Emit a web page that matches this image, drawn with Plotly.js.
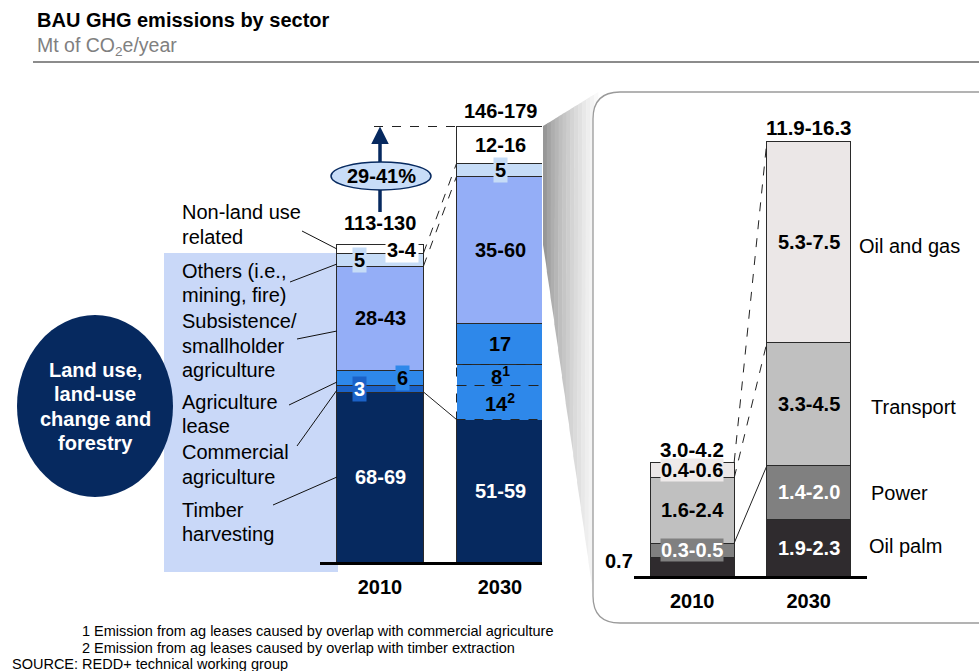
<!DOCTYPE html>
<html><head><meta charset="utf-8">
<script src="https://cdn.plot.ly/plotly-3.0.1.min.js"></script>
<style>html,body{margin:0;padding:0;background:#fff}#chart{width:979px;height:671px}</style>
</head><body><div id="chart"></div>
<script>
// ---------------- DATA ----------------
const years = ['2010', '2030'];

// Land use, land-use change and forestry (left chart), Mt CO2e / year
const timberHarvesting         = [68, 57];
const agLeaseTimberOverlap     = [null, 13.6];
const agLeaseCommercialOverlap = [null, 8.4];
const commercialAgriculture    = [2.8, null];
const agricultureLease         = [6, 16.4];
const subsistenceAgriculture   = [41.6, 58.8];
const othersMiningFire         = [5.2, 5.2];
const nonLandUseRelated        = [3.6, 14.8];

const timberLabels            = ['68-69', '51-59'];
const agLeaseTimberLabels     = ['', '14<sup>2</sup>'];
const agLeaseCommercialLabels = ['', '8<sup>1</sup>'];
const commercialLabels        = ['3', ''];
const leaseLabels             = ['6', '17'];
const subsistenceLabels       = ['28-43', '35-60'];
const othersLabels            = ['5', '5'];
const nonLandLabels           = ['3-4', '12-16'];
const landTotals              = ['113-130', '146-179'];
const growthLabel             = '29-41%';

// Non-land use (right panel), Mt CO2e / year
const oilPalm   = [0.63, 1.9];
const power     = [0.47, 1.77];
const transport = [2.17, 4.1];
const oilAndGas = [0.53, 6.7];
const oilPalmLabels   = ['0.7', '1.9-2.3'];
const powerLabels     = ['0.3-0.5', '1.4-2.0'];
const transportLabels = ['1.6-2.4', '3.3-4.5'];
const oilAndGasLabels = ['0.4-0.6', '5.3-7.5'];
const nonLandTotals   = ['3.0-4.2', '11.9-16.3'];

const footnotes = [
  '1 Emission from ag leases caused by overlap with commercial agriculture',
  '2 Emission from ag leases caused by overlap with timber extraction'
];
const sourceNote = 'SOURCE: REDD+ technical working group';

// ---------------- STYLE / LAYOUT ----------------
const W = 979, H = 671;
const px = v => v / W;
const py = v => 1 - v / H;
const P = (x, y) => px(x) + ',' + py(y);
const FONT = 'Liberation Sans, Arial, Helvetica, sans-serif';
const NAVY = '#06295f';
const LW = 0.725;   // left bar width (category units)
const RW = 0.72;    // right bar width

const leftSeries = [
  {values: timberHarvesting, labels: timberLabels, color: NAVY, text: '#fff'},
  {values: agLeaseTimberOverlap, labels: agLeaseTimberLabels, color: '#2e88ea', text: '#000', dashed: true},
  {values: agLeaseCommercialOverlap, labels: agLeaseCommercialLabels, color: '#2e88ea', text: '#000', dashed: true},
  {values: commercialAgriculture, labels: commercialLabels, color: '#1b62c8', text: '#fff', boxes: [{xshift: -21}, null]},
  {values: agricultureLease, labels: leaseLabels, color: '#2e88ea', text: '#000', boxes: [{xshift: 22}, null]},
  {values: subsistenceAgriculture, labels: subsistenceLabels, color: '#94aef7', text: '#000'},
  {values: othersMiningFire, labels: othersLabels, color: '#c6dcf7', text: '#000', boxes: [{xshift: -21}, {xshift: 0}]},
  {values: nonLandUseRelated, labels: nonLandLabels, color: '#ffffff', text: '#000', boxes: [{xshift: 22, yshift: -1}, null]}
];
const rightSeries = [
  {values: oilPalm, labels: oilPalmLabels, color: '#2f2b2e', text: '#fff', boxes: [{xshift: -73, yshift: 6, bg: 'rgba(0,0,0,0)', text: '#000'}, null]},
  {values: power, labels: powerLabels, color: '#808080', text: '#fff', boxes: [{xshift: 0, pad: 0}, null]},
  {values: transport, labels: transportLabels, color: '#c0c0c0', text: '#000'},
  {values: oilAndGas, labels: oilAndGasLabels, color: '#ebe7e7', text: '#000', boxes: [{xshift: 0, bg: '#eeeaea', pad: 0}, null]}
];

function cum(series, i, k) { // sum of series[0..k] at index i
  let s = 0;
  for (let j = 0; j <= k; j++) s += (series[j].values[i] || 0);
  return s;
}

const traces = [];
const annotations = [];
const shapes = [];

function addStack(series, xa, ya, width) {
  series.forEach((s, k) => {
    traces.push({
      type: 'bar', x: [0, 1], y: s.values, width: width,
      xaxis: xa, yaxis: ya, hoverinfo: 'skip', showlegend: false,
      marker: {color: s.color, line: {color: s.dashed ? s.color : '#2a2a2a', width: s.dashed ? 0 : 1}}
    });
    s.values.forEach((v, i) => {
      if (v == null) return;
      const base = cum(series, i, k - 1);
      if (s.dashed) {
        shapes.push({type: 'rect', xref: xa, yref: ya, layer: 'above',
          x0: i - width / 2, x1: i + width / 2, y0: base, y1: base + v,
          line: {color: '#222', width: 1, dash: 'dash'}});
      }
      const lab = s.labels[i];
      if (!lab) return;
      const b = s.boxes ? s.boxes[i] : null;
      annotations.push({
        xref: xa, yref: ya, x: i, y: base + v / 2, text: '<b>' + lab + '</b>',
        showarrow: false, xanchor: 'center', yanchor: 'middle',
        xshift: b ? (b.xshift || 0) : 0, yshift: b ? (b.yshift || 0) : 0,
        bgcolor: b ? (b.bg || s.color) : 'rgba(0,0,0,0)', borderpad: b && b.pad !== undefined ? b.pad : 1,
        font: {family: FONT, size: 20, color: b && b.text ? b.text : s.text}
      });
    });
  });
}
addStack(leftSeries, 'x', 'y', LW);
addStack(rightSeries, 'x2', 'y2', RW);

// totals
const lTot = [0, 1].map(i => cum(leftSeries, i, leftSeries.length - 1));
const rTot = [0, 1].map(i => cum(rightSeries, i, rightSeries.length - 1));
const totShiftL = [21, 16], totShiftR = [13, 14];
landTotals.forEach((t, i) => annotations.push({xref: 'x', yref: 'y', x: i, y: lTot[i], yshift: totShiftL[i],
  xanchor: 'center', yanchor: 'middle',
  text: '<b>' + t + '</b>', showarrow: false, font: {family: FONT, size: 20, color: '#000'}}));
nonLandTotals.forEach((t, i) => annotations.push({xref: 'x2', yref: 'y2', x: i, y: rTot[i], yshift: totShiftR[i],
  xanchor: 'center', yanchor: 'middle',
  text: '<b>' + t + '</b>', showarrow: false, font: {family: FONT, size: 20.5, color: '#000'}}));

// connectors (computed from stacked data)
function connector(xa, ya, w, y0, y1, dash) {
  shapes.push({type: 'line', xref: xa, yref: ya, layer: 'above', x0: w / 2, x1: 1 - w / 2, y0: y0, y1: y1,
    line: {color: '#222', width: 1, dash: dash}});
}
connector('x', 'y', LW, cum(leftSeries, 0, 6), cum(leftSeries, 1, 6), 'dash');
connector('x', 'y', LW, cum(leftSeries, 0, 5), cum(leftSeries, 1, 5), 'dash');
connector('x', 'y', LW, cum(leftSeries, 0, 0), cum(leftSeries, 1, 0), 'solid');
connector('x2', 'y2', RW, rTot[0], rTot[1], 'dash');
connector('x2', 'y2', RW, cum(rightSeries, 0, 2), cum(rightSeries, 1, 2), 'dash');
connector('x2', 'y2', RW, cum(rightSeries, 0, 1), cum(rightSeries, 1, 1), 'solid');
// dashed horizontal from arrow to 2030 top
shapes.push({type: 'line', xref: 'x', yref: 'y', layer: 'above', x0: -0.05, x1: 1 - LW / 2, y0: lTot[1], y1: lTot[1],
  line: {color: '#222', width: 1, dash: 'dash'}});

// growth arrow
annotations.push({xref: 'x', yref: 'y', x: 0, y: lTot[1], ax: 0, ay: 37, text: '', showarrow: true,
  arrowhead: 2, arrowsize: 1, arrowwidth: 3.5, arrowcolor: NAVY});
shapes.push({type: 'line', xref: 'x', yref: 'paper', layer: 'above', x0: 0, x1: 0, y0: py(189), y1: py(212),
  line: {color: NAVY, width: 3.5}});
shapes.push({type: 'circle', xref: 'paper', yref: 'paper', layer: 'above', x0: px(331), x1: px(431), y0: py(190), y1: py(162),
  fillcolor: '#c8ddf8', line: {color: NAVY, width: 1.5}});
annotations.push({xref: 'paper', yref: 'paper', x: px(381), y: py(176), xanchor: 'center', yanchor: 'middle',
  text: '<b>' + growthLabel + '</b>', showarrow: false,
  font: {family: FONT, size: 20, color: '#000'}});

// background decorations (below)
const below = [];
// gray wedge (gradient approximated by strips)
const A = [543, 126], B = [598, 92], C = [543, 245], D = [596, 615];
const N = 14;
for (let j = 0; j < N; j++) {
  const t0 = j / N, t1 = (j + 1) / N;
  const xa0 = A[0] + (B[0] - A[0]) * t0, xa1 = A[0] + (B[0] - A[0]) * t1;
  const ya0 = A[1] + (B[1] - A[1]) * t0, ya1 = A[1] + (B[1] - A[1]) * t1;
  const yb0 = C[1] + (D[1] - C[1]) * t0, yb1 = C[1] + (D[1] - C[1]) * t1;
  const xb0 = C[0] + (D[0] - C[0]) * t0, xb1 = C[0] + (D[0] - C[0]) * t1;
  const g = Math.round(140 + 112 * Math.pow((j + 0.5) / N, 0.7));
  below.push({type: 'path', xref: 'paper', yref: 'paper', layer: 'below',
    path: 'M' + P(xa0, ya0) + 'L' + P(xa1 + 0.4, ya1) + 'L' + P(xb1 + 0.4, yb1) + 'L' + P(xb0, yb0) + 'Z',
    fillcolor: 'rgb(' + g + ',' + g + ',' + g + ')', line: {width: 0}});
}
// right panel (rounded)
below.push({type: 'path', xref: 'paper', yref: 'paper', layer: 'below',
  path: 'M' + P(1010, 92) + 'L' + P(620, 92) + 'Q' + P(593, 92) + ' ' + P(593, 119) + 'L' + P(593, 596) +
        'Q' + P(593, 623) + ' ' + P(620, 623) + 'L' + P(1010, 623) + 'Z',
  fillcolor: '#ffffff', line: {color: '#9a9a9a', width: 1.3}});
// light blue label background
below.push({type: 'rect', xref: 'paper', yref: 'paper', layer: 'below', x0: px(164), x1: px(338), y0: py(572), y1: py(253),
  fillcolor: '#c9d8f8', line: {width: 0}});
// title underline
below.push({type: 'line', xref: 'paper', yref: 'paper', layer: 'below', x0: px(33), x1: px(979), y0: py(62), y1: py(62),
  line: {color: '#666', width: 1.5}});
// LULUCF ellipse
below.push({type: 'circle', xref: 'paper', yref: 'paper', layer: 'above', x0: px(17), x1: px(173), y0: py(497), y1: py(315),
  fillcolor: NAVY, line: {width: 0}});

// leader lines
[[302, 231, 337, 249], [290, 282, 337, 264], [297, 339, 337, 331], [289, 405, 337, 382], [297, 446, 337, 390], [273, 505, 337, 477]]
  .forEach(l => shapes.push({type: 'line', xref: 'paper', yref: 'paper', layer: 'above',
    x0: px(l[0]), y0: py(l[1]), x1: px(l[2]), y1: py(l[3]), line: {color: '#111', width: 1}}));

// text labels
function txt(x, y, s, opt) {
  opt = opt || {};
  annotations.push({xref: 'paper', yref: 'paper', x: px(x), y: py(y), text: s, showarrow: false,
    xanchor: opt.xanchor || 'left', yanchor: 'middle',
    font: {family: FONT, size: opt.size || 20, color: opt.color || '#000'}});
}
txt(35, 20, '<b>BAU GHG emissions by sector</b>', {size: 20});
txt(35, 46, 'Mt of CO<sub>2</sub>e/year', {size: 19.5, color: '#808080'});
[['Non-land use', 212], ['related', 237], ['Others (i.e.,', 271], ['mining, fire)', 295], ['Subsistence/', 321],
 ['smallholder', 346], ['agriculture', 370], ['Agriculture', 402], ['lease', 426], ['Commercial', 452],
 ['agriculture', 477], ['Timber', 510], ['harvesting', 534]].forEach(t => txt(180, t[1], t[0]));
['<b>Land use,</b>', '<b>land-use</b>', '<b>change and</b>', '<b>forestry</b>'].forEach((t, i) =>
  txt(95, 370 + i * 24.3, t, {xanchor: 'center', color: '#fff'}));
txt(857, 246, 'Oil and gas');
txt(869, 407, 'Transport');
txt(869, 493, 'Power');
txt(867, 546, 'Oil palm');
txt(80, 631, footnotes[0], {size: 14.5});
txt(80, 648, footnotes[1], {size: 14.5});
txt(10, 664, sourceNote, {size: 14.5});

const xaxisCommon = {tickmode: 'array', tickvals: [0, 1], ticktext: years, ticks: '', showgrid: false, zeroline: false,
  showline: true, linecolor: '#000', linewidth: 3, ticklabelstandoff: 5, fixedrange: true,
  tickfont: {family: FONT, size: 20, color: '#000', weight: 'bold'}};
const layout = {
  width: W, height: H, margin: {l: 0, r: 0, t: 0, b: 0},
  paper_bgcolor: '#fff', plot_bgcolor: 'rgba(0,0,0,0)', barmode: 'stack', showlegend: false,
  xaxis: Object.assign({}, xaxisCommon, {domain: [px(320), px(542)], range: [-0.5, 1.35], anchor: 'y'}),
  yaxis: {domain: [py(562), py(100)], range: [0, 184.8], visible: false, fixedrange: true, anchor: 'x'},
  xaxis2: Object.assign({}, xaxisCommon, {domain: [px(634), px(867)], range: [-0.5, 1.5], anchor: 'y2'}),
  yaxis2: {domain: [py(576), py(100)], range: [0, 476 / 30], visible: false, fixedrange: true, anchor: 'x2'},
  shapes: below.concat(shapes),
  annotations: annotations
};
Plotly.newPlot('chart', traces, layout, {displayModeBar: false, staticPlot: true});
</script>
</body></html>
